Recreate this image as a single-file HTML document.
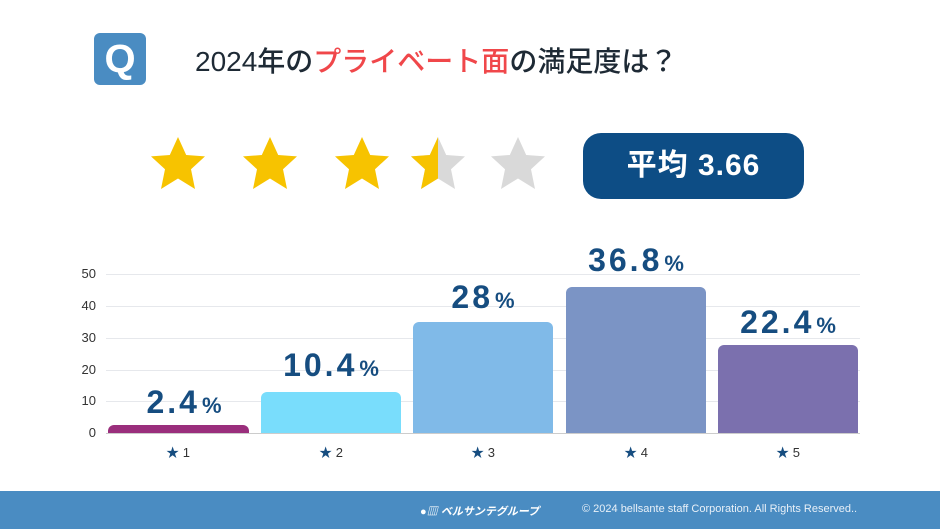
<!DOCTYPE html><html><head><meta charset="utf-8"><style>
body{margin:0;width:940px;height:529px;background:#fff;position:relative;overflow:hidden;font-family:"Liberation Sans","Noto Sans CJK JP",sans-serif}
.a{position:absolute}
.lbl{position:absolute;color:#164d80;font-weight:bold;font-size:32px;text-align:center;width:160px;letter-spacing:3px}
.lbl small{font-size:22px;margin-left:2px;letter-spacing:0}
.yt{position:absolute;left:70px;width:26px;text-align:right;font-size:13px;color:#333}
.xt{position:absolute;top:442px;font-size:13px;color:#333;width:140px;text-align:center}
.g{position:absolute;left:106px;width:754px;height:1px;background:#e6e8ec}
</style></head><body>
<div class="a" style="left:94px;top:33px;width:52px;height:52px;background:#4a8cc2;border-radius:6px"></div>
<div class="a" style="left:94px;top:33px;width:52px;height:52px;color:#fff;font-weight:bold;font-size:40px;line-height:52px;text-align:center">Q</div>
<div class="a" style="left:195px;top:40px;font-size:28px;color:#1e2a35;font-weight:500;white-space:nowrap">2024年の<span style="color:#f0474a">プライベート面</span>の満足度は？</div>
<svg class="a" style="left:0;top:0" width="940" height="230">
<defs><clipPath id="h"><rect x="-30" y="-30" width="30" height="60"/></clipPath>
<path id="s" d="M0,-28 L8.2,-10 L27,-8.6 L13,4.2 L17,24 L0,13.5 L-17,24 L-13,4.2 L-27,-8.6 L-8.2,-10Z"/></defs>
<use href="#s" x="178" y="165" fill="#f7c300"/>
<use href="#s" x="270" y="165" fill="#f7c300"/>
<use href="#s" x="362" y="165" fill="#f7c300"/>
<use href="#s" x="438" y="165" fill="#d9d9d9"/>
<g transform="translate(438,165)"><path d="M0,-28 L8.2,-10 L27,-8.6 L13,4.2 L17,24 L0,13.5 L-17,24 L-13,4.2 L-27,-8.6 L-8.2,-10Z" fill="#f7c300" clip-path="url(#h)"/></g>
<use href="#s" x="518" y="165" fill="#d9d9d9"/>
</svg>
<div class="a" style="left:583px;top:133px;width:221px;height:66px;background:#0d4d85;border-radius:18px;color:#fff;font-weight:bold;font-size:30px;line-height:66px;text-align:center;letter-spacing:1px">平均 3.66</div>
<div class="g" style="top:274px"></div><div class="g" style="top:306px"></div><div class="g" style="top:338px"></div><div class="g" style="top:370px"></div><div class="g" style="top:401px"></div>
<div class="g" style="top:433px;background:#ccc"></div>
<div class="yt" style="top:266px">50</div><div class="yt" style="top:298px">40</div><div class="yt" style="top:330px">30</div><div class="yt" style="top:362px">20</div><div class="yt" style="top:393px">10</div><div class="yt" style="top:425px">0</div>
<div class="a" style="left:108px;top:425px;width:141px;height:8px;background:#9a2e7c;border-radius:6px 6px 0 0"></div>
<div class="a" style="left:261px;top:392px;width:140px;height:41px;background:#79ddfc;border-radius:6px 6px 0 0"></div>
<div class="a" style="left:413px;top:322px;width:140px;height:111px;background:#80bae8;border-radius:6px 6px 0 0"></div>
<div class="a" style="left:566px;top:287px;width:140px;height:146px;background:#7b94c5;border-radius:6px 6px 0 0"></div>
<div class="a" style="left:718px;top:345px;width:140px;height:88px;background:#7b70ae;border-radius:6px 6px 0 0"></div>
<div class="lbl" style="left:104px;top:384px">2.4<small>%</small></div>
<div class="lbl" style="left:251px;top:347px">10.4<small>%</small></div>
<div class="lbl" style="left:403px;top:279px">28<small>%</small></div>
<div class="lbl" style="left:556px;top:242px">36.8<small>%</small></div>
<div class="lbl" style="left:708px;top:304px">22.4<small>%</small></div>
<div class="xt" style="left:108px"><span style="color:#164d80">★</span> 1</div>
<div class="xt" style="left:261px"><span style="color:#164d80">★</span> 2</div>
<div class="xt" style="left:413px"><span style="color:#164d80">★</span> 3</div>
<div class="xt" style="left:566px"><span style="color:#164d80">★</span> 4</div>
<div class="xt" style="left:718px"><span style="color:#164d80">★</span> 5</div>
<div class="a" style="left:0;top:491px;width:940px;height:38px;background:#4a8cc2"></div>
<div class="a" style="left:420px;top:503px;color:#fff;font-weight:bold;font-style:italic;font-size:11px">●▥ ベルサンテグループ</div>
<div class="a" style="left:582px;top:503px;color:#e8f0f8;font-size:11px">© 2024 bellsante staff Corporation. All Rights Reserved..</div>
</body></html>
